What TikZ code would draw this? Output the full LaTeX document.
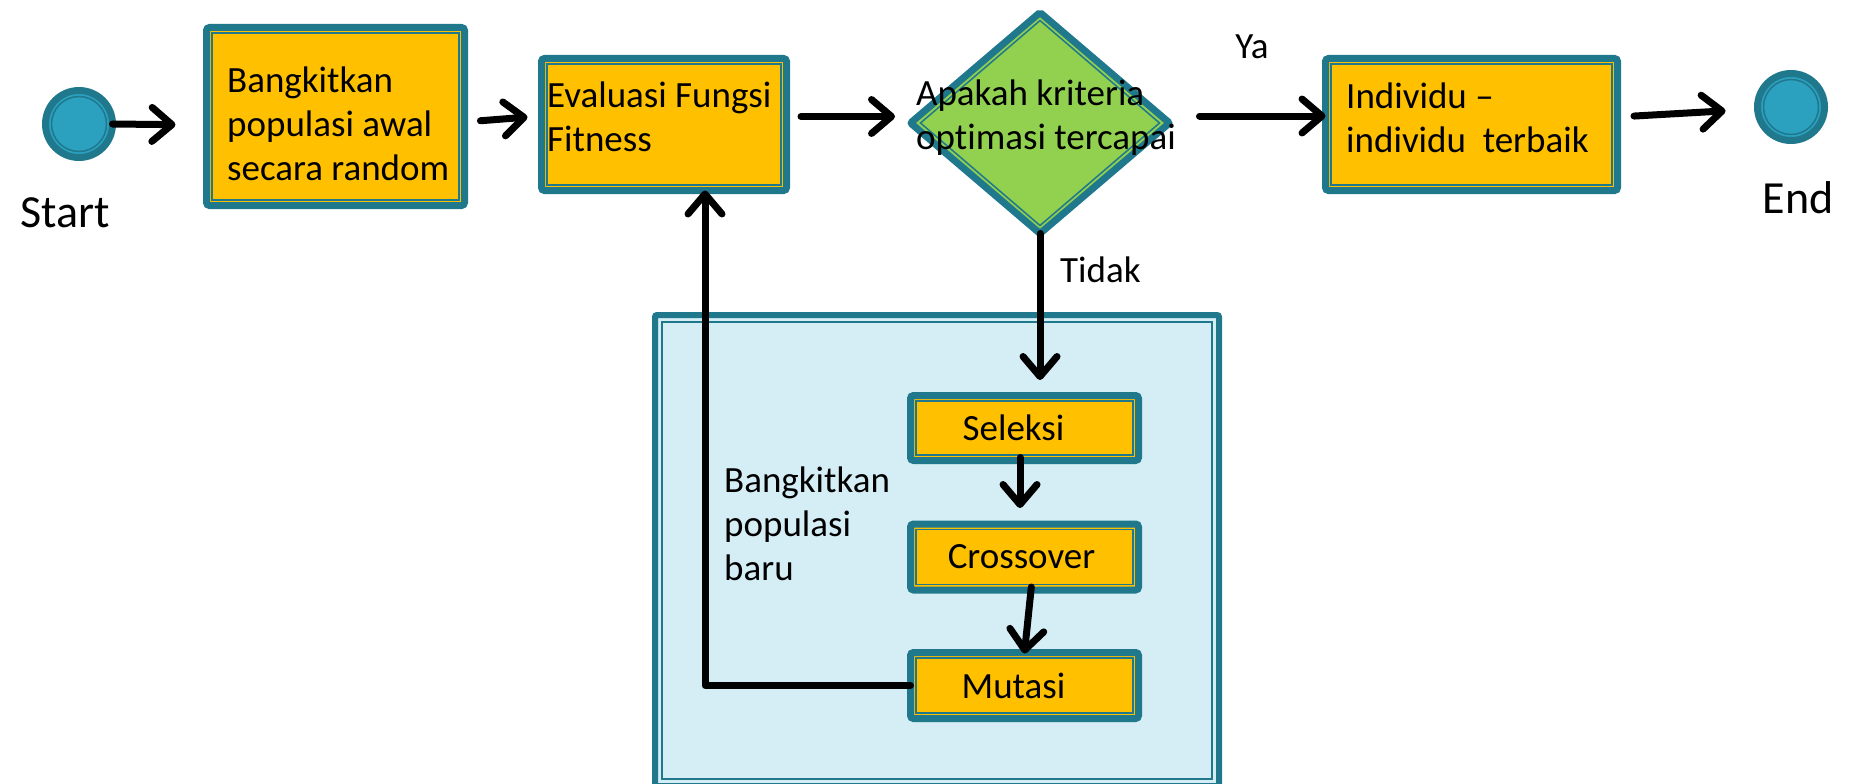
\documentclass[tikz,border=0pt]{standalone}
\usepackage{fontspec}
\setmainfont{Carlito}[Ligatures=NoCommon]
\usetikzlibrary{arrows.meta,shapes.geometric,calc}
\definecolor{tealc}{HTML}{1F788C}
\definecolor{goldc}{HTML}{FFC000}
\definecolor{greenc}{HTML}{92D050}
\definecolor{circc}{HTML}{2CA1BF}
\definecolor{panelc}{HTML}{D5EDF4}
\newcommand\txtA{\fontsize{37}{44}\selectfont}
\newcommand\txtB{\fontsize{46}{54}\selectfont}
\begin{document}
\begin{tikzpicture}[x=1pt,y=-1pt,
  box/.style={draw=tealc, line width=7pt, fill=goldc, rounded corners=3pt, inner sep=0pt, outer sep=0pt, font=\txtA},
  dia/.style={shape=diamond, draw=tealc, line width=7pt, fill=greenc, inner sep=0pt, outer sep=0pt, rounded corners=2pt},
  circ/.style={circle, draw=tealc, line width=7pt, fill=circc, minimum size=67pt, inner sep=0pt, outer sep=0pt},
  panel/.style={draw=tealc, line width=6pt, fill=panelc, inner sep=0pt, outer sep=0pt, rounded corners=2pt},
  lbl/.style={font=\txtA, inner sep=0pt},
  conn/.style={line width=7pt, line cap=round, line join=round, -{Straight Barb[length=20pt, width=34pt, round]}}
]
\useasboundingbox (0,0) rectangle (1855,784);

% panel
\node[panel, minimum width=564pt, minimum height=471pt] (pan) at (937,550.5) {};
\draw[tealc, line width=1.5pt] ([shift={(7pt,-7pt)}]pan.north west) rectangle ([shift={(-7pt,7pt)}]pan.south east);
\node[lbl, align=left, anchor=west] (bpb) at (724,524) {Bangkitkan\\populasi\\baru};

% circles
\node[circ] (start) at (79,124) {};
\node[circ] (end) at (1791,107) {};
\foreach \n in {start,end}{
  \draw[tealc, line width=1.5pt] (\n.center) circle[radius=27.5pt];
}
\node[font=\txtB, inner sep=0pt] (starttxt) at (65,213) {Start};
\node[font=\txtB, inner sep=0pt] (endtxt) at (1798,198) {End};

% boxes
\node[box, minimum width=258pt, minimum height=178pt] (b1) at (335.5,116.5) {};
\node[box, minimum width=245pt, minimum height=132pt] (b2) at (664,124.5) {};
\node[box, minimum width=292pt, minimum height=132pt] (b4) at (1471.5,124.5) {};
\node[box, minimum width=228pt, minimum height=65pt] (sel) at (1024.5,428) {Seleksi\hspace*{22pt}};
\node[box, minimum width=228pt, minimum height=66pt] (cro) at (1024.5,557) {Crossover\hspace*{6pt}};
\node[box, minimum width=228pt, minimum height=66pt] (mut) at (1024.5,685.5) {Mutasi\hspace*{22pt}};
\foreach \n in {b1,b2,b4,sel,cro,mut}{
  \draw[tealc, line width=1.7pt] ([shift={(5.5pt,-5.5pt)}]\n.north west) rectangle ([shift={(-5.5pt,5.5pt)}]\n.south east);
}
\node[lbl, align=left, anchor=west] (t1) at (227,124) {Bangkitkan\\populasi awal\\secara random};
\node[lbl, align=left, anchor=west] (t2) at (547,117) {Evaluasi Fungsi\\Fitness};
\node[lbl, align=left, anchor=west] (t4) at (1346,118) {Individu –\\individu\ \ terbaik};

% diamond
\node[dia, minimum width=259pt, minimum height=221pt] (d) at (1040,123) {};
\draw[tealc, line width=1.5pt] ([yshift=-8pt]d.north) -- ([xshift=-10pt]d.east) -- ([yshift=8pt]d.south) -- ([xshift=10pt]d.west) -- cycle;
\node[lbl, align=left] (dt) at (1046,118) {Apakah kriteria\\optimasi tercapai};

% labels
\node[lbl] (ya) at (1252,47) {Ya};
\node[lbl, anchor=west] (tidak) at (1060,270) {Tidak};

% connectors
\draw[conn] (start.east) -- ([yshift=-1pt]start.east -| b1.west) [shorten >=31pt];
\draw[conn, shorten <=16pt, shorten >=14pt] ([yshift=-5.5pt]b1.east) -- ([yshift=8.5pt]b2.west);
\draw[conn, shorten <=14.5pt, shorten >=15.5pt] ([yshift=8pt]b2.east) -- ([yshift=8pt]b2.east -| d.west);
\draw[conn, shorten <=30pt] ([yshift=7pt]d.east) -- ([yshift=7pt]d.east -| b4.west);
\draw[conn, shorten <=16.5pt, shorten >=32pt] ([yshift=7.5pt]b4.east) -- ([yshift=-2pt]end.west);
\draw[conn, shorten >=15.5pt] (d.south) -- (d.south |- sel.north);
\draw[conn, shorten <=-3pt, shorten >=16pt] ([xshift=-4.5pt]sel.south) -- ([xshift=-4.5pt]sel.south |- cro.north);
\draw[conn, shorten <=-3pt, shorten >=-1pt] ([xshift=6.5pt]cro.south) -- (mut.north);
\draw[conn] (mut.west) -| ([xshift=41pt]b2.south);
\end{tikzpicture}
\end{document}
